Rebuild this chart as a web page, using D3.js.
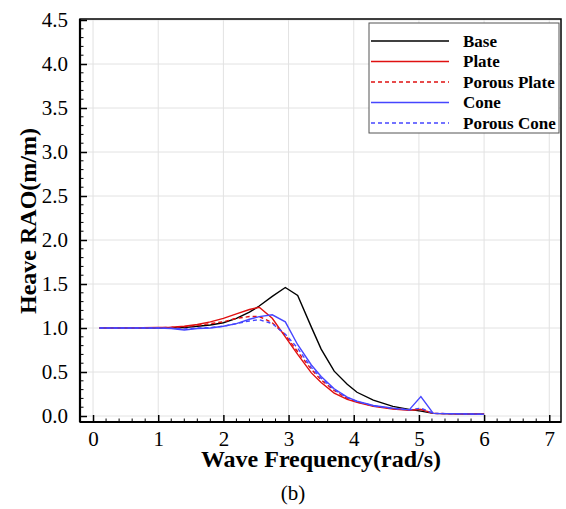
<!DOCTYPE html>
<html><head><meta charset="utf-8">
<script src="https://cdn.jsdelivr.net/npm/d3@7"></script>
<style>
body{margin:0;background:#fff;}
svg{display:block;}
text{font-family:"Liberation Serif","Times New Roman",serif;fill:#000;}
</style></head>
<body>
<svg id="chart" width="566" height="509"></svg>
<script>
const freq = [0.1,0.5,1.0,1.2,1.4,1.6,1.8,2.0,2.2,2.4,2.55,2.75,2.95,3.14,3.35,3.5,3.7,3.9,4.05,4.3,4.6,4.85,5.03,5.22,6.0];
const base =        [1.0,1.0,1.0,1.0,1.005,1.02,1.035,1.06,1.11,1.18,1.25,1.36,1.46,1.37,1.01,0.76,0.51,0.36,0.27,0.18,0.11,0.075,0.055,0.03,0.02];
const plate =       [1.0,1.0,1.005,1.01,1.02,1.04,1.07,1.11,1.16,1.21,1.235,1.11,0.90,0.70,0.49,0.38,0.26,0.19,0.155,0.11,0.08,0.065,0.075,0.03,0.02];
const porousPlate = [1.0,1.0,1.003,1.007,1.015,1.03,1.05,1.07,1.11,1.13,1.13,1.06,0.92,0.73,0.53,0.41,0.29,0.20,0.16,0.115,0.085,0.07,0.075,0.03,0.02];
const cone =        [1.0,1.0,1.0,0.995,0.977,0.995,1.0,1.02,1.05,1.10,1.13,1.15,1.07,0.81,0.58,0.45,0.31,0.215,0.17,0.12,0.09,0.07,0.22,0.03,0.02];
const porousCone =  [1.0,1.0,1.0,0.997,0.99,1.0,1.005,1.02,1.05,1.08,1.095,1.05,0.93,0.77,0.55,0.43,0.30,0.21,0.165,0.115,0.085,0.07,0.09,0.03,0.02];
const seriesNames = ["Base","Plate","Porous Plate","Cone","Porous Cone"];
const xTicks = [0,1,2,3,4,5,6,7];
const yTicks = [0,0.5,1.0,1.5,2.0,2.5,3.0,3.5,4.0,4.5];

const series = [
  {name:seriesNames[0], values:base, color:"#000000", dash:null},
  {name:seriesNames[1], values:plate, color:"#e01010", dash:null},
  {name:seriesNames[2], values:porousPlate, color:"#e01010", dash:"4,3"},
  {name:seriesNames[3], values:cone, color:"#4646ff", dash:null},
  {name:seriesNames[4], values:porousCone, color:"#4646ff", dash:"4,3"}
];

const svg = d3.select("#chart");
const L=80, R=561, T=19, B=422;
const x = d3.scaleLinear().domain([-0.2,7.18]).range([L,R]);
const y = d3.scaleLinear().domain([-0.068,4.5]).range([B,20]);

// grid
const g = svg.append("g");
g.selectAll("line.vg").data(xTicks).enter().append("line")
  .attr("x1",d=>x(d)).attr("x2",d=>x(d)).attr("y1",T).attr("y2",B)
  .attr("stroke","#e2e2e2").attr("stroke-width",1);
g.selectAll("line.hg").data(yTicks).enter().append("line")
  .attr("x1",L).attr("x2",R).attr("y1",d=>y(d)).attr("y2",d=>y(d))
  .attr("stroke","#e2e2e2").attr("stroke-width",1);

// lines
const line = d3.line().x((d,i)=>x(freq[i])).y(d=>y(d));
series.forEach(s=>{
  svg.append("path").datum(s.values).attr("d",line)
    .attr("fill","none").attr("stroke",s.color).attr("stroke-width",1.4)
    .attr("stroke-dasharray",s.dash);
});

// frame
svg.append("rect").attr("x",L).attr("y",T).attr("width",R-L).attr("height",B-T)
  .attr("fill","none").attr("stroke","#000").attr("stroke-width",1.5);
svg.append("line").attr("x1",L).attr("x2",L).attr("y1",T).attr("y2",B).attr("stroke","#000").attr("stroke-width",2.2);
svg.append("line").attr("x1",L).attr("x2",R).attr("y1",B).attr("y2",B).attr("stroke","#000").attr("stroke-width",2.2);

// axes with inward ticks
const xMinor = d3.range(-0.2,7.2,0.2).map(v=>+v.toFixed(2)).filter(v=>!xTicks.includes(v));
const yMinor = d3.range(0,4.5,0.1).map(v=>+v.toFixed(2)).filter(v=>!yTicks.some(t=>Math.abs(t-v)<1e-6));
const xAxis = d3.axisBottom(x).tickValues(xTicks).tickFormat(d3.format("d")).tickSizeInner(-7).tickSizeOuter(0).tickPadding(9);
const xa = svg.append("g").attr("transform",`translate(0,${B})`).call(xAxis);
xa.select(".domain").remove();
xa.selectAll("line").attr("stroke","#000").attr("stroke-width",1.5);
xa.selectAll("text").attr("font-size",21).style("font-family","Liberation Serif");
svg.append("g").selectAll("line").data(xMinor).enter().append("line")
  .attr("x1",d=>x(d)).attr("x2",d=>x(d)).attr("y1",B).attr("y2",B-3.5).attr("stroke","#000").attr("stroke-width",1);

const yAxis = d3.axisLeft(y).tickValues(yTicks).tickFormat(d3.format(".1f")).tickSizeInner(-7).tickSizeOuter(0).tickPadding(12);
const ya = svg.append("g").attr("transform",`translate(${L},0)`).call(yAxis);
ya.select(".domain").remove();
ya.selectAll("line").attr("stroke","#000").attr("stroke-width",1.5);
ya.selectAll("text").attr("font-size",21).style("font-family","Liberation Serif");
svg.append("g").selectAll("line").data(yMinor).enter().append("line")
  .attr("x1",L).attr("x2",L+3.5).attr("y1",d=>y(d)).attr("y2",d=>y(d)).attr("stroke","#000").attr("stroke-width",1);

// titles
svg.append("text").attr("x",321).attr("y",467).attr("text-anchor","middle")
  .attr("font-size",24).attr("font-weight","bold").text("Wave Frequency(rad/s)");
svg.append("text").attr("transform","translate(36,221) rotate(-90)").attr("text-anchor","middle")
  .attr("font-size",24).attr("font-weight","bold").text("Heave RAO(m/m)");
svg.append("text").attr("x",293).attr("y",500).attr("text-anchor","middle")
  .attr("font-size",21).text("(b)");

// legend
const lg = svg.append("g");
lg.append("rect").attr("x",369).attr("y",23).attr("width",190).attr("height",110)
  .attr("fill","#fff").attr("stroke","#555").attr("stroke-width",1);
series.forEach((s,i)=>{
  const yy = 41 + i*20.5;
  lg.append("line").attr("x1",371).attr("x2",449).attr("y1",yy).attr("y2",yy)
    .attr("stroke",s.color).attr("stroke-width",1.4).attr("stroke-dasharray",s.dash);
  lg.append("text").attr("x",463).attr("y",yy+5.5).attr("font-size",17).attr("font-weight","bold").text(s.name);
});
</script>
</body></html>
